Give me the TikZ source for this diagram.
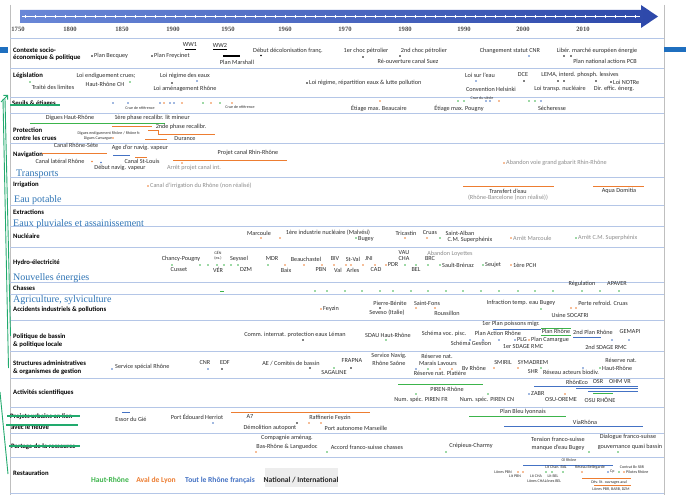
\documentclass[tikz,border=0pt]{standalone}
\usepackage{fontspec}
\setmainfont{Carlito}
\newfontfamily\serifov{Liberation Serif}
\usetikzlibrary{arrows.meta}
\definecolor{cg}{RGB}{60,180,75}
\definecolor{co}{RGB}{237,125,49}
\definecolor{cb}{RGB}{68,114,196}
\definecolor{sepc}{RGB}{180,198,231}
\definecolor{ann}{RGB}{34,170,110}
\definecolor{ovb}{RGB}{46,116,181}
\definecolor{txt}{RGB}{45,45,45}
\definecolor{barl}{RGB}{105,135,215}
\definecolor{bard}{RGB}{45,72,170}
\definecolor{slide}{RGB}{31,111,191}
\newcounter{evc}
\newcommand\ev[4][]{\stepcounter{evc}\node[ev,#1] (e\arabic{evc}) at (#2,#3) {#4};}
\newcommand\dt[3]{\fill[#1] (#2,#3) circle (0.95);}
\begin{document}
\begin{tikzpicture}[x=1pt,y=-1pt,
 ev/.style={font=\fontsize{6.2}{7}\selectfont, text=txt, inner sep=0pt},
 sm/.style={font=\fontsize{4}{4.5}\selectfont},
 wl/.style={anchor=west},
 gy/.style={text=black!45},
 lbl/.style={font=\bfseries\fontsize{6.7}{7.5}\selectfont, text=black, inner sep=0pt, anchor=west},
 yr/.style={font=\serifov\bfseries\fontsize{6.6}{7.5}\selectfont, text=black!70, inner sep=0pt},
 ov/.style={font=\serifov\fontsize{10}{11}\selectfont, text=ovb, inner sep=0pt, anchor=west},
 leg/.style={font=\bfseries\fontsize{7.6}{8.5}\selectfont, inner sep=0pt},
 sepl/.style={draw=sepc, line width=0.8pt},
 tlg/.style={draw=cg, line width=1pt},
 tlo/.style={draw=co, line width=1pt},
 tlb/.style={draw=cb, line width=1pt},
 strike/.style={draw=ann, line width=1.2pt},
 wbar/.style={draw=black, line width=1.3pt}]
\useasboundingbox (0,0) rectangle (686,495);
\fill[white] (0,0) rectangle (686,495);
% borders
\draw[black!25, line width=0.6pt] (10,5) -- (10,495);
\draw[black!25, line width=0.6pt] (664,5) -- (664,495);
% slide fragments
\fill[slide] (0,47) rectangle (8,53);
\fill[slide] (664,47) rectangle (686,52);
% time arrow
\shade[left color=barl, right color=bard] (20,10) -- (641,10) -- (641,5) -- (658,16.5) -- (641,28) -- (641,23) -- (20,23) -- cycle;
\draw[white, line width=0.3pt] (22,16.5) -- (640,16.5);
\foreach \t in {25,35,...,635} \draw[white, line width=0.3pt] (\t,15.3) -- (\t,17.7);
% years
\node[yr] (y1750) at (18,29) {1750};
\node[yr] (y1800) at (70,29) {1800};
\node[yr] (y1850) at (122,29) {1850};
\node[yr] (y1900) at (173,29) {1900};
\node[yr] (y1950) at (228,29) {1950};
\node[yr] (y1960) at (285,29) {1960};
\node[yr] (y1970) at (345,29) {1970};
\node[yr] (y1980) at (405,29) {1980};
\node[yr] (y1990) at (464,29) {1990};
\node[yr] (y2000) at (523,29) {2000};
\node[yr] (y2010) at (583,29) {2010};
% separators
\foreach \s in {38,68,97,113,143,177,205,226,247,282,294,320,351,378,407,433,457,493}
  \draw[sepl] (10,\s) -- (664,\s);
% row labels
\node[lbl] (l1a) at (13,50) {Contexte socio-};
\node[lbl] (l1b) at (13,58) {économique \& politique};
\node[lbl] (l2) at (13,76) {Législation};
\node[lbl] (l3) at (12,104) {Seuils \& étiages};
\node[lbl] (l4a) at (13,130) {Protection};
\node[lbl] (l4b) at (13,138) {contre les crues};
\node[lbl] (l5) at (13,155) {Navigation};
\node[lbl] (l6) at (13,185) {Irrigation};
\node[lbl] (l7) at (13,212) {Extractions};
\node[lbl] (l8) at (13,236) {Nucléaire};
\node[lbl] (l9) at (13,263) {Hydro-électricité};
\node[lbl] (l10) at (13,288) {Chasses};
\node[lbl] (l11) at (13,310) {Accidents industriels \& pollutions};
\node[lbl] (l12a) at (13,337) {Politique de bassin};
\node[lbl] (l12b) at (13,345) {\& politique locale};
\node[lbl] (l13a) at (13,363) {Structures administratives};
\node[lbl] (l13b) at (13,372) {\& organismes de gestion};
\node[lbl] (l14) at (13,393) {Activités scientifiques};
\node[lbl] (l15a) at (10,417) {Projets urbains en lien};
\node[lbl] (l15b) at (11,427) {avec le fleuve};
\node[lbl] (l16) at (11,447) {Partage de la ressource};
\node[lbl] (l17) at (13,473) {Restauration};
% overlay blue texts
\node[ov] (o1) at (16,174) {Transports};
\node[ov] (o2) at (14,200) {Eau potable};
\node[ov] (o3) at (13,224) {Eaux pluviales et assainissement};
\node[ov] (o4) at (13,278) {Nouvelles énergies};
\node[ov] (o5) at (13,300) {Agriculture, sylviculture};
% annotations (green)
\draw[ann, line width=0.9pt, -{Straight Barb[length=3pt]}] (1,102) -- (8,95);
\draw[ann, line width=0.9pt] (3,99) -- (8.5,368);
\draw[ann, line width=0.9pt] (5,99) -- (10.5,336);
\draw[ann, line width=0.9pt] (0,392) -- (8,474);
\draw[strike] (10,105) -- (60,105);
\draw[strike] (7,416) -- (80,416);
\draw[strike] (6,425) -- (78,425);
\draw[strike] (9,446) -- (80,446);
% ---- Contexte
\dt{black}{92}{56}\ev[wl]{94}{56}{Plan Becquey}
\dt{black}{152}{56}\ev[wl]{154}{56}{Plan Freycinet}
\ev{190}{45}{WW1}\draw[wbar] (185,49.5) -- (196,49.5);
\ev{220}{45}{WW2}\draw[wbar] (213,49.5) -- (227,49.5);
\draw[wbar] (223,56) -- (240,56);
\ev{237}{62}{Plan Marshall}
\ev{288}{51}{Début décolonisation franç.}\dt{black}{261}{55.5}
\ev{366}{51}{1er choc pétrolier}\dt{black}{363}{57}
\ev{424}{51}{2nd choc pétrolier}\dt{black}{400}{56}
\ev{408}{61}{Ré-ouverture canal Suez}
\ev{510}{51}{Changement statut CNR}\dt{cb}{529}{56}
\ev{597}{51}{Libér. marché européen énergie}\dt{black}{564}{56}\dt{black}{571}{56}
\ev{605}{61}{Plan national actions PCB}
% ---- Legislation
\dt{cg}{30}{82}\ev{53}{87}{Traité des limites}
\ev{106}{76}{Loi endiguement crues;}\ev{105}{84}{Haut-Rhône CH}\dt{cg}{130}{82}
\ev{185}{76}{Loi régime des eaux}\dt{black}{172}{83}\dt{cb}{197}{81}
\ev{185}{89}{Loi aménagement Rhône}
\dt{black}{307}{83}\ev[wl]{309}{83}{Loi régime, répartition eaux \& lutte pollution}
\ev{480}{75}{Loi sur l'eau}\dt{cb}{476}{81}
\ev{523}{75}{DCE}\dt{black}{524}{81}
\ev{580}{75}{LEMA, interd. phosph. lessives}\dt{black}{558}{81}\dt{black}{564}{81}\dt{black}{596}{81}
\ev{491}{89}{Convention Helsinki}
\ev{560}{89}{Loi transp. nucléaire}
\ev{614}{89}{Dir. effic. énerg.}
\dt{black}{611}{82}\ev[wl]{613}{82}{Loi NOTRe}
% ---- Seuils
\foreach \c/\x in {cb/113,cb/128,cb/160,co/164,cb/170,cb/174,co/182,cg/203,co/211,cg/220,co/232} \dt{\c}{\x}{103};
\ev[sm]{140}{108}{Crue de référence}
\ev[sm]{240}{107}{Crue de référence}
\ev{379}{108}{Étiage max. Beaucaire}\dt{co}{380}{101}
\ev{459}{108}{Étiage max. Pougny}
\foreach \c/\x in {cg/458,cg/464,cb/486,cb/490,co/499,cg/529,cg/535,cb/541} \dt{\c}{\x}{101};
\ev[sm]{482}{98.5}{Crue du siècle}
\ev{552}{108}{Sécheresse}
% ---- Protection
\ev{70}{118}{Digues Haut-Rhône}\draw[tlg] (30,123) -- (165,123);
\ev{152}{118}{1ère phase recalibr. lit mineur}\draw[tlo] (112,126) -- (152,126);
\ev{181}{127}{2nde phase recalibr.}
\draw[tlo] (148,130.5) -- (158,130.5) -- (158,134) -- (215,134);
\ev[sm]{109}{133.5}{Digues endiguement Rhône / Rhône fr.}
\ev[sm]{98}{138.5}{Digues Camargue}\dt{co}{113}{138}
\draw[tlo] (145,139) -- (167,139);
\ev{185}{139}{Durance}
% ---- Navigation
\ev{76}{145}{Canal Rhône-Sète}\draw[tlo] (42,153) -- (107,153);
\ev{140}{148}{Age d'or navig. vapeur}\draw[tlb] (113,155) -- (130,155);
\ev{248}{153}{Projet canal Rhin-Rhône}\draw[tlo] (173,160) -- (287,160);
\ev{60}{161}{Canal latéral Rhône}\dt{co}{92}{161.5}\dt{cb}{101}{162.5}
\ev{142}{161}{Canal St-Louis}\draw[tlo] (135,157) -- (147,157);
\ev{120}{168}{Début navig. vapeur}
\ev[gy]{194}{168}{Arrêt projet canal int.}\dt{co}{182}{163}
\dt{co}{504}{163}\ev[wl,gy]{506}{163}{Abandon voie grand gabarit Rhin-Rhône}
% ---- Irrigation
\dt{co}{148}{186}\ev[wl,gy]{150}{186}{Canal d'irrigation du Rhône (non réalisé)}
\draw[tlo] (463,186) -- (554,186);
\ev{508}{191}{Transfert d'eau}\ev[gy]{508}{198}{(Rhône-Barcelone (non réalisé))}
\draw[tlo] (593,186) -- (644,186);
\ev{619}{191}{Aqua Domitia}
% ---- Nucleaire
\ev{259}{233}{Marcoule}\dt{co}{261}{238}
\ev{328}{233}{1ère industrie nucléaire (Malvési)}\dt{co}{280}{238}
\dt{cg}{356}{238}\ev[wl]{358}{239}{Bugey}
\ev{406}{233}{Tricastin}\dt{co}{405}{238}
\ev{430}{233}{Cruas}\dt{co}{427}{238}
\ev{460}{233}{Saint-Alban}\dt{cg}{440}{238}
\ev{470}{240}{C.M. Superphénix}
\dt{co}{511}{238}\ev[wl,gy]{513}{238}{Arrêt Marcoule}
\dt{cg}{576}{238}\ev[wl,gy]{578}{238}{Arrêt C.M. Superphénix}
% ---- Hydro
\ev{181}{259}{Chancy-Pougny}\ev{179}{270}{Cusset}
\ev[sm]{218}{253}{GÉN}\ev[sm]{218}{258}{(ex.)}\ev{218}{270}{VÉR}
\foreach \c/\x in {cg/172,cg/200,cg/208,cg/217,cg/224,cg/231,cg/238,cg/268,co/285,co/304,co/322,co/334,co/346,co/351,co/363,co/375,co/386,cg/405,cg/416,cg/428} \dt{\c}{\x}{265};
\ev{239}{259}{Seyssel}\ev{246}{270}{DZM}
\ev{272}{259}{MDR}\ev{286}{270}{Baix}
\ev{306}{259}{Beauchastel}\ev{321}{270}{PBN}
\ev{335}{259}{BIV}\ev{338}{270}{Val}
\ev{353}{259}{St-Val}\ev{353}{270}{Arles}
\ev{369}{259}{JNI}\ev{376}{270}{CAD}
\ev{393}{265}{PDR}
\ev{404}{253}{VAU}\ev{404}{259}{CHA}\ev{416}{270}{BEL}
\ev[gy]{450}{254}{Abandon Loyettes}\ev{430}{259}{BRC}
\dt{cg}{440}{265}\ev[wl]{442}{265}{Sault-Brénaz}
\dt{cg}{483}{265}\ev[wl]{485}{265}{Seujet}
\dt{co}{511}{265}\ev[wl]{513}{265}{1ère PCH}
% ---- Chasses
\draw[cg, line width=1pt] (220,291) -- (224,291);
\foreach \x in {315,327,345,362,380,393,411,428,446,463,481,499,518,535,553,582,600,619} \dt{cg}{\x}{291};
\ev{582}{284}{Régulation}\ev{617}{284}{APAVER}
% ---- Accidents
\dt{co}{321}{309}\ev[wl]{323}{309}{Feyzin}
\ev{390}{303}{Pierre-Bénite}\ev{387}{313}{Seveso (Italie)}\dt{black}{380}{308}
\ev{427}{303}{Saint-Fons}\dt{co}{416}{308}
\ev{447}{313}{Roussillon}\dt{co}{435}{308}
\ev{521}{303}{Infraction temp. eau Bugey}\dt{cg}{541}{309}
\ev{603}{303}{Perte refroid. Cruas}\dt{co}{571}{308}\dt{co}{576}{308}
\ev{570}{315}{Usine SOCATRI}
% ---- Politique de bassin
\ev{295}{335}{Comm. internat. protection eaux Léman}\dt{black}{303}{340}
\ev{388}{335}{SDAU Haut-Rhône}\dt{cg}{386}{340}
\ev{444}{334}{Schéma voc. pisc.}
\ev{511}{324}{1er Plan poissons migr.}\draw[tlb] (493,329) -- (541,329);
\ev{498}{333}{Plan Action Rhône}
\ev{471}{343}{Schéma Gestion}
\foreach \c/\x in {cb/470,cb/483,cb/499,cb/515,co/529,cb/612,cb/629} \dt{\c}{\x}{340};
\ev[wl]{517}{340}{PLG}
\ev[wl]{531}{340}{Plan Camargue}
\ev{523}{347}{1er SDAGE RMC}
\draw[tlg] (541,328) -- (571,328);
\ev{556}{331.5}{Plan Rhône}\draw[tlg] (541,335) -- (571,335);
\ev{593}{332}{2nd Plan Rhône}\draw[tlb] (573,337) -- (601,337);
\ev{630}{332}{GEMAPI}
\ev{606}{347}{2nd SDAGE RMC}
% ---- Structures
\dt{cb}{112}{369}\ev[wl]{115}{367}{Service spécial Rhône}
\ev{205}{363}{CNR}\dt{cb}{208}{369}
\ev{225}{363}{EDF}\dt{black}{222}{369}
\ev{291}{363}{AE / Comités de bassin}\dt{black}{310}{368}
\ev{334}{373}{SAGALINE}\dt{cg}{334}{368}
\ev{352}{361}{FRAPNA}\dt{black}{351}{368}
\ev{389}{356}{Service Navig.}\ev{389}{363}{Rhône Saône}
\ev{437}{356}{Réserve nat.}\ev{438}{363}{Marais Lavours}
\foreach \c/\x in {cb/416,cg/428,co/440,co/452} \dt{\c}{\x}{369};
\ev{440}{373}{Réserve nat. Platière}
\ev{474}{368}{Bv Rhône}\dt{co}{494}{368}
\ev{503}{363}{SMIRIL}\ev{533}{363}{SYMADREM}\dt{co}{518}{368}
\ev{533}{372}{SHR}\dt{cg}{541}{368}
\ev{571}{372}{Réseau acteurs biodiv.}\dt{cb}{583}{368}
\ev{621}{360}{Réserve nat.}\dt{cg}{600}{368}\ev[wl]{602}{368}{Haut-Rhône}
% ---- Activites scientifiques
\draw[tlg] (398,384) -- (483,384);
\ev{447}{389}{PIREN-Rhône}
\ev{421}{400}{Num. spéc. PIREN FR}\dt{cg}{416}{394}
\ev{487}{400}{Num. spéc. PIREN CN}\dt{cg}{488}{394}
\dt{cb}{529}{394}\ev[wl]{531}{394}{ZABR}
\ev{577}{382}{RhônEco}\ev{598}{382}{OSR}\ev{620}{382}{OHM VR}
\draw[tlb] (534,386) -- (638,386);
\draw[tlb] (576,388.5) -- (638,388.5);
\draw[tlb] (588,391) -- (638,391);
\draw[tlg] (593,393.5) -- (613,393.5);
\ev{561}{400}{OSU-OREME}\dt{co}{565}{394}
\ev{600}{400}{OSU RHÔNE}
% ---- Projets urbains
\draw[tlb] (122,412) -- (130,412);
\ev{131}{419}{Essor du Gié}
\ev{197}{417}{Port Édouard Herriot}\dt{cb}{213}{423}
\draw[tlo] (231,412) -- (370,412);
\ev{250}{417}{A7}
\ev{270}{428}{Démolition autopont}\dt{black}{297}{423}
\ev{330}{418}{Raffinerie Feyzin}\dt{co}{309}{423}\dt{co}{321}{423}
\ev{356}{428}{Port autonome Marseille}
\draw[tlg] (469,416) -- (566,416);
\ev{523}{412}{Plan Bleu lyonnais}
\ev{585}{422}{ViaRhôna}\draw[tlb] (504,426) -- (643,426);
% ---- Partage
\ev{287}{438}{Compagnie aménag.}\ev{287}{447}{Bas-Rhône \& Languedoc}\dt{co}{256}{452}
\ev{367}{447}{Accord franco-suisse chasses}\dt{cg}{327}{452}
\ev{471}{446}{Crépieux-Charmy}\dt{cg}{446}{452}
\ev{558}{439}{Tension franco-suisse}\ev{558}{448}{manque d'eau Bugey}\dt{cg}{589}{452}
\ev{628}{437}{Dialogue franco-suisse}\ev{630}{447}{gouvernance quasi bassin}\dt{cg}{618}{452}
% ---- Restauration
\draw[tlb] (523,465) -- (613,465);
\ev[sm]{569}{460}{Ol Rhône}
\ev[sm]{503}{472}{Lônes PBN}\dt{co}{518}{472}\dt{co}{523}{472}
\ev[sm]{515}{476.5}{Lit PBN}
\ev[sm]{536}{476.5}{Lit CHA}\ev[sm]{536}{481}{Lônes CHA}
\ev[sm]{553}{476.5}{Lit BEL}\ev[sm]{553}{481}{Lônes BEL}
\ev[sm]{556}{467}{Lit Chan. BdL}
\foreach \c/\x in {cg/546,cg/552,cg/563,co/582,cb/608,cg/619,co/624} \dt{\c}{\x}{472};
\ev[sm]{590}{467}{Réseau Bellegarde}
\ev[sm]{632}{467}{Contrat Bv SBR}
\ev[sm,wl]{610}{472}{Cp}
\ev[sm,wl]{626}{472}{Pilotes Rhône}
\draw[tlo] (582,478) -- (631,478);
\ev[sm]{609}{482}{Dév. lit. ouvrages aval}
\draw[tlo] (594,485) -- (631,485);
\ev[sm]{611}{489}{Lônes PBR, BARB, DZM}
% legend
\fill[black!7] (265,468) rectangle (338,487);
\node[leg, text=cg] (lg1) at (110,480) {Haut-Rhône};
\node[leg, text=co] (lg2) at (156,480) {Aval de Lyon};
\node[leg, text=cb] (lg3) at (220,480) {Tout le Rhône français};
\node[leg, text=black!85] (lg4) at (301,480) {National / International};
\end{tikzpicture}
\end{document}
